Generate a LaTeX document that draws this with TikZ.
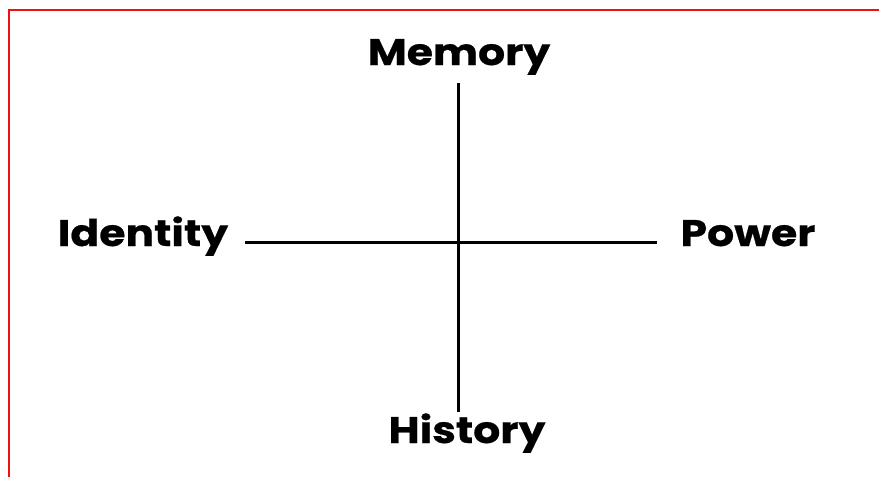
\documentclass[tikz,border=0pt]{standalone}
\usepackage{fontspec}
\setmainfont{Poppins}
\newfontfamily\labelfont[FakeStretch=1.15, FakeBold=0.6]{Poppins}
\usetikzlibrary{positioning}
\definecolor{framered}{HTML}{F01010}

\tikzset{
  axislabel/.style={font=\labelfont\fontsize{37}{44}\selectfont\bfseries, inner sep=0pt},
  axisline/.style={line width=3pt, black}
}

\begin{document}
\begin{tikzpicture}[x=1pt,y=-1pt]
\useasboundingbox (0,0) rectangle (879,477);
% frame
\draw[framered, line width=2.5pt] (9,477) -- (9,10) -- (879,10);
% labels
\node[axislabel, anchor=base] (memory) at (459,65) {Memory};
\node[axislabel, anchor=base] (history) at (467,443) {History};
\node[axislabel, anchor=base] (identity) at (143,246) {Identity};
\node[axislabel, anchor=base] (power) at (748,246) {Power};
% axes
\coordinate (top) at (458,83);
\coordinate (bottom) at (458,412);
\coordinate (left) at (245,242);
\coordinate (right) at (657,242);
\draw[axisline] (top) -- (bottom);
\draw[axisline] (left) -- (right);
\end{tikzpicture}
\end{document}
